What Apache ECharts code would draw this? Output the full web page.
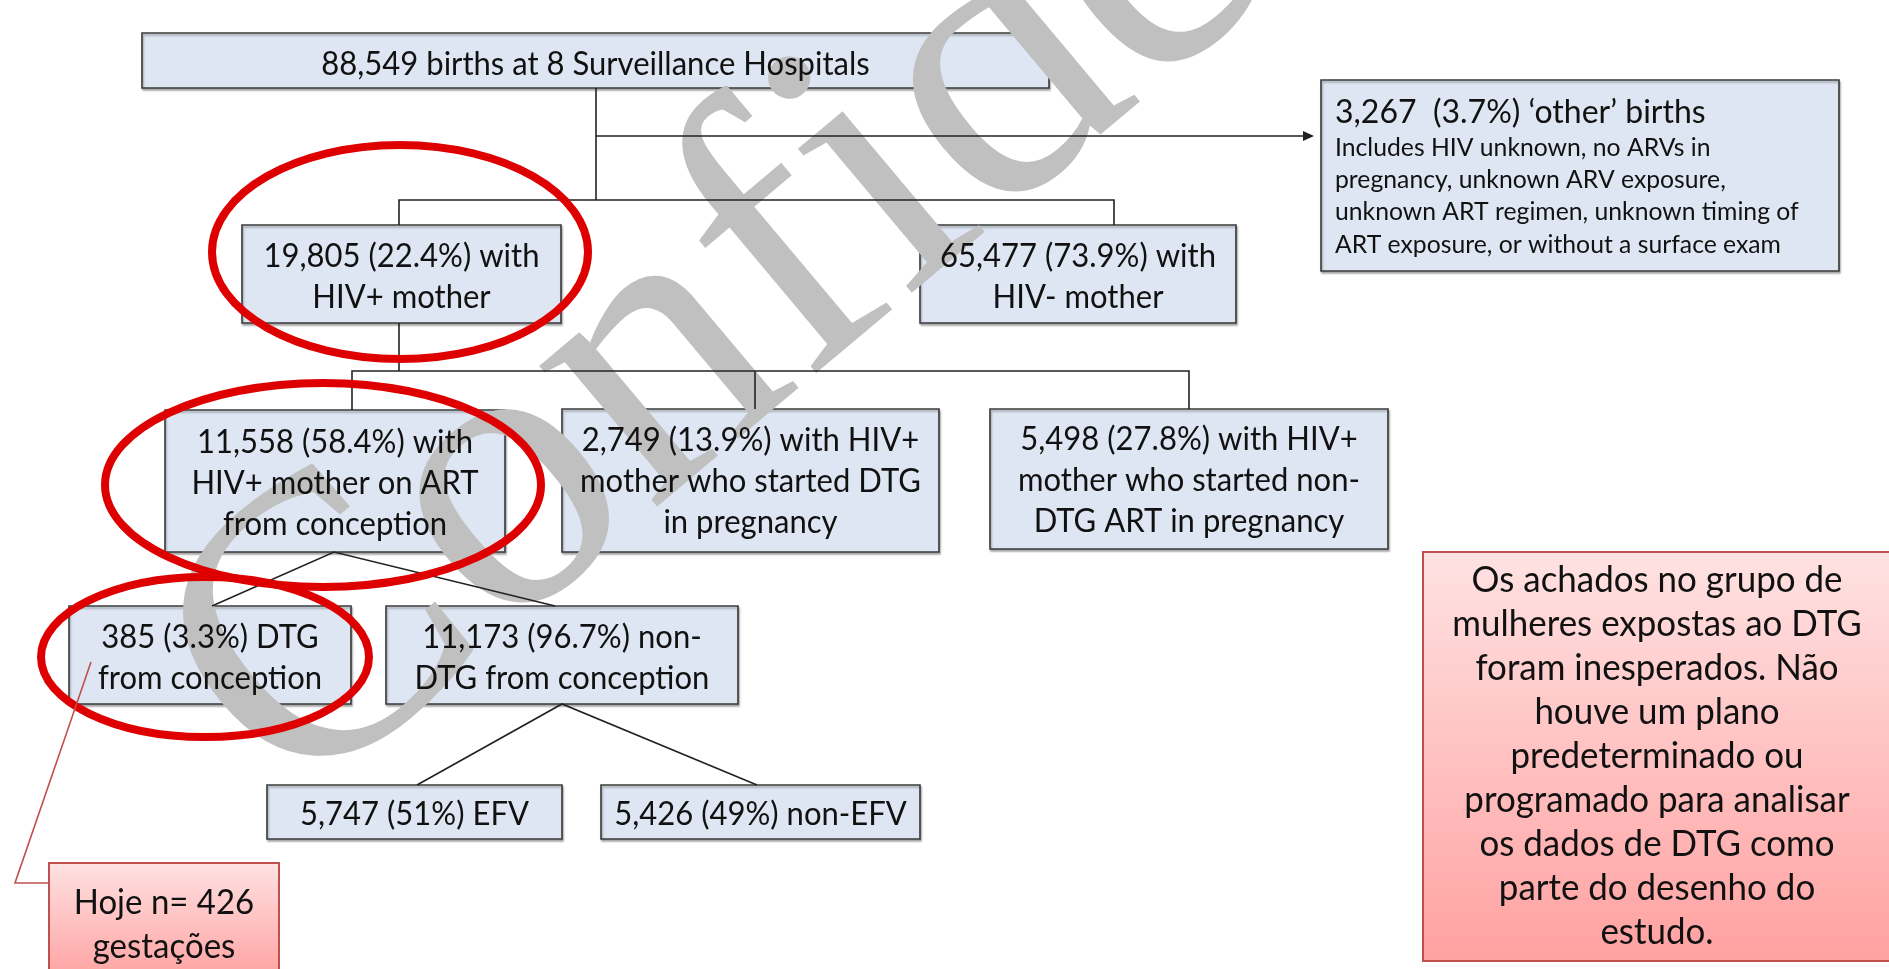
<!DOCTYPE html>
<html>
<head>
<meta charset="utf-8">
<title>DTG surveillance flow</title>
<script src="https://cdn.jsdelivr.net/npm/echarts@6/dist/echarts.min.js"></script>
<style>
html, body { margin: 0; padding: 0; background: #fff; }
#main { width: 1889px; height: 969px; }
</style>
</head>
<body>
<div id="main"></div>
<script type="text/javascript">
// ---- data ----
var counts   = [88549, 3267, 19805, 65477, 11558, 2749, 5498, 385, 11173, 5747, 5426];
var percents = [null, 3.7, 22.4, 73.9, 58.4, 13.9, 27.8, 3.3, 96.7, 51, 49];
var descs = [
    'births at 8 Surveillance Hospitals',
    '\u2018other\u2019 births',
    'with\nHIV+ mother',
    'with\nHIV- mother',
    'with\nHIV+ mother on ART\nfrom conception',
    'with HIV+\nmother who started DTG\nin pregnancy',
    'with HIV+\nmother who started non-\nDTG ART in pregnancy',
    'DTG\nfrom conception',
    'non-\nDTG from conception',
    'EFV',
    'non-EFV'
];
var otherNote = [
    'Includes HIV unknown, no ARVs in',
    'pregnancy, unknown ARV exposure,',
    'unknown ART regimen, unknown timing of',
    'ART exposure, or without a surface exam'
];
var todayN = 426;
var todayText = ['Hoje n= ' + todayN, 'gesta\u00e7\u00f5es'];
var noteLines = [
    'Os achados no grupo de',
    'mulheres expostas ao DTG',
    'foram inesperados. N\u00e3o',
    'houve um plano',
    'predeterminado ou',
    'programado para analisar',
    'os dados de DTG como',
    'parte do desenho do',
    'estudo.'
];
var watermarkText = 'Confidential';

// ---- layout (pixel space of the hidden axes) ----
var W = 1889, H = 969;
var boxPos = [
    [142, 33, 1049, 88],
    [1321, 80, 1839, 271],
    [242, 225, 561, 323],
    [920, 225, 1236, 323],
    [165, 410, 505, 552],
    [562, 409, 939, 552],
    [990, 409, 1388, 549],
    [69, 606, 351, 704],
    [386, 606, 738, 704],
    [267, 785, 562, 839],
    [601, 785, 920, 839]
];
var textDy = [4, 0, 3, 3, 3, 1, 2, 3, 3, 3, 3];
var pinkPos = [[49, 863, 279, 980], [1423, 552, 1900, 961]];
var pinkDy = [4, 0];
var links = [
    [[596, 88], [596, 200]],
    [[596, 136], [1306, 136]],
    [[399, 225], [399, 200], [1114, 200], [1114, 225]],
    [[399, 323], [399, 371]],
    [[352, 410], [352, 371], [1189, 371], [1189, 409]],
    [[755, 371], [755, 409]],
    [[212, 606], [334, 552], [555, 606]],
    [[417, 785], [562, 704], [757, 785]]
];
var arrowTip = [1314, 136];
var rings = [[400, 252, 188, 107], [323, 485, 218, 102], [205, 657, 164, 80]];
var leader = [[91, 662], [15, 883], [49, 883]];

var FONT = 'Lato, "Open Sans", sans-serif';
var SX = 0.97;

function fmt(n) { return n.toLocaleString('en-US'); }
function boxLabel(i) {
    if (percents[i] == null) return fmt(counts[i]) + ' ' + descs[i];
    var sep = i === 1 ? '  ' : ' ';
    return fmt(counts[i]) + sep + '(' + percents[i] + '%) ' + descs[i];
}
function pt(api, p) { return api.coord(p); }

var myChart = echarts.init(document.getElementById('main'));

var option = {
    animation: false,
    grid: { left: 0, right: 0, top: 0, bottom: 0 },
    xAxis: { type: 'value', min: 0, max: W, show: false },
    yAxis: { type: 'value', min: 0, max: H, inverse: true, show: false },
    graphic: [{
        type: 'text',
        x: 225, y: 732,
        rotation: 40 * Math.PI / 180,
        z: 2,
        silent: true,
        style: {
            text: watermarkText,
            font: '400px "Liberation Serif", serif',
            fill: '#c0c0c0',
            verticalAlign: 'middle'
        }
    }],
    series: [
        // boxes
        {
            type: 'custom', coordinateSystem: 'cartesian2d', z: 1, silent: true,
            data: counts.map(function (c, i) { return [i, c]; }),
            encode: { x: 0 },
            renderItem: function (params, api) {
                var b = boxPos[api.value(0)];
                var a = pt(api, [b[0], b[1]]), c = pt(api, [b[2], b[3]]);
                return {
                    type: 'rect',
                    shape: { x: a[0], y: a[1], width: c[0] - a[0], height: c[1] - a[1] },
                    style: { fill: '#dde6f2', stroke: '#3a3a3a', lineWidth: 1.6,
                             shadowBlur: 2, shadowOffsetX: 1, shadowOffsetY: 2, shadowColor: 'rgba(0,0,0,0.3)' }
                };
            }
        },
        // pink notes
        {
            type: 'custom', coordinateSystem: 'cartesian2d', z: 1, silent: true,
            data: [[0, todayN], [1, 0]],
            encode: { x: 0 },
            renderItem: function (params, api) {
                var k = api.value(0);
                var b = pinkPos[k];
                var a = pt(api, [b[0], b[1]]), c = pt(api, [b[2], b[3]]);
                var t = k === 0 ? todayText : noteLines;
                var m = pt(api, [k === 0 ? (b[0] + b[2]) / 2 : 1657, (b[1] + b[3]) / 2 + pinkDy[k]]);
                return {
                    type: 'group',
                    children: [{
                        type: 'rect',
                        shape: { x: a[0], y: a[1], width: c[0] - a[0], height: c[1] - a[1] },
                        style: {
                            fill: new echarts.graphic.LinearGradient(0, 0, 0, 1, [
                                { offset: 0, color: '#ffe2e2' }, { offset: 1, color: '#ffa1a1' }]),
                            stroke: '#c0504d', lineWidth: 2
                        }
                    }, {
                        type: 'text', x: m[0], y: m[1], scaleX: SX, z2: 10,
                        style: { text: t.join('\n'), font: (k === 0 ? '34px ' : '36px ') + FONT, fill: '#111',
                                 align: 'center', verticalAlign: 'middle', lineHeight: 44 }
                    }]
                };
            }
        },
        // connectors
        {
            type: 'custom', coordinateSystem: 'cartesian2d', z: 3, silent: true,
            data: links.map(function (l, i) { return [i]; }),
            encode: { x: 0 },
            renderItem: function (params, api) {
                var i = api.value(0);
                var ptsArr = links[i].map(function (p) { return pt(api, p); });
                var kids = [{ type: 'polyline', shape: { points: ptsArr },
                              style: { stroke: '#222', lineWidth: 1.6, fill: null } }];
                if (i === 1) {
                    var tp = pt(api, arrowTip);
                    kids.push({ type: 'polygon',
                                shape: { points: [tp, [tp[0] - 11, tp[1] - 5], [tp[0] - 11, tp[1] + 5]] },
                                style: { fill: '#222' } });
                }
                return { type: 'group', children: kids };
            }
        },
        // box text
        {
            type: 'custom', coordinateSystem: 'cartesian2d', z: 4, silent: true,
            data: counts.map(function (c, i) { return [i, c]; }),
            encode: { x: 0 },
            renderItem: function (params, api) {
                var i = api.value(0);
                var b = boxPos[i];
                if (i === 1) {
                    var p1 = pt(api, [1335, 112]), p2 = pt(api, [1335, 196]);
                    return { type: 'group', children: [
                        { type: 'text', x: p1[0], y: p1[1], scaleX: SX,
                          style: { text: boxLabel(1), font: '33px ' + FONT, fill: '#111',
                                   align: 'left', verticalAlign: 'middle' } },
                        { type: 'text', x: p2[0], y: p2[1], scaleX: SX,
                          style: { text: otherNote.join('\n'), font: '25.5px ' + FONT, fill: '#111',
                                   align: 'left', verticalAlign: 'middle', lineHeight: 32.4 } }
                    ] };
                }
                var m = pt(api, [(b[0] + b[2]) / 2, (b[1] + b[3]) / 2 + textDy[i]]);
                return {
                    type: 'text', x: m[0], y: m[1], scaleX: SX,
                    style: { text: boxLabel(i), font: '32px ' + FONT, fill: '#111',
                             align: 'center', verticalAlign: 'middle', lineHeight: 41 }
                };
            }
        },
        // red rings and leader
        {
            type: 'custom', coordinateSystem: 'cartesian2d', z: 5, silent: true,
            data: rings.map(function (r, i) { return [i]; }).concat([[9]]),
            encode: { x: 0 },
            renderItem: function (params, api) {
                var i = api.value(0);
                if (i === 9) {
                    return { type: 'polyline', shape: { points: leader.map(function (p) { return pt(api, p); }) },
                             style: { stroke: '#c0504d', lineWidth: 1.6, fill: null } };
                }
                var r = rings[i];
                var c = pt(api, [r[0], r[1]]);
                return { type: 'ellipse', shape: { cx: c[0], cy: c[1], rx: r[2], ry: r[3] },
                         style: { stroke: '#de0000', lineWidth: 8, fill: null } };
            }
        }
    ]
};
myChart.setOption(option);
</script>
</body>
</html>
